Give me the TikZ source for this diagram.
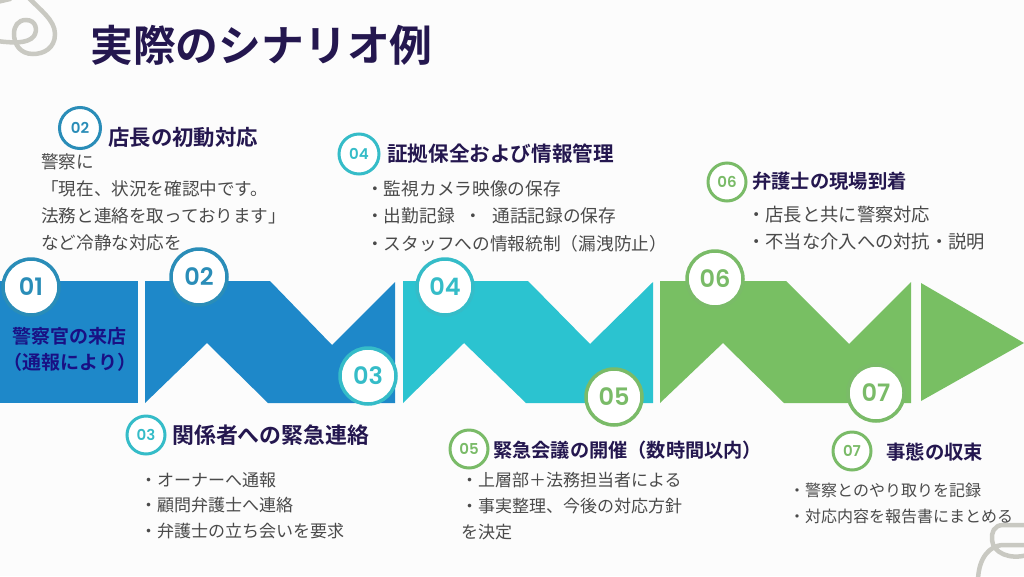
\documentclass[tikz,border=0pt]{standalone}
\usepackage{fontspec}
\setmainfont{Noto Sans CJK JP}[BoldFont={Noto Sans CJK JP Bold}]
\newfontfamily\numfont{Poppins}[BoldFont={Poppins SemiBold}]
\definecolor{bluefill}{HTML}{1E88C9}
\definecolor{bluering}{HTML}{2A8DB8}
\definecolor{tealfill}{HTML}{2BC3D0}
\definecolor{tealring}{HTML}{35BCC8}
\definecolor{greenfill}{HTML}{78BF63}
\definecolor{greenring}{HTML}{7ABB68}
\definecolor{navytext}{HTML}{24174F}
\definecolor{bodytext}{HTML}{4A4A4A}
\definecolor{squiggle}{HTML}{C9C9C2}
\newcommand{\headfont}[1]{\fontsize{#1}{#1}\selectfont\bfseries}
\tikzset{
  x=1pt, y=-1pt,
  bignum/.style={circle, draw=#1, fill=white, line width=3.5pt, minimum size=56pt, inner sep=0pt, text=#1, font=\numfont\bfseries\fontsize{24}{24}\selectfont},
  smallnum/.style={circle, draw=#1, fill=white, line width=3pt, minimum size=38pt, inner sep=0pt, text=#1, font=\numfont\bfseries\fontsize{15}{15}\selectfont},
  heading/.style={anchor=west, inner sep=0pt, text=navytext},
  bodyblock/.style 2 args={anchor=north west, inner sep=0pt, align=left, text=bodytext, font=\fontsize{#1}{#2}\selectfont},
  curl/.style={draw=squiggle, line width=4.5pt, line cap=round},
}
\begin{document}
\begin{tikzpicture}
 \useasboundingbox (0, 0) rectangle (1024, 576);
 \fill[white!99!black] (0, 0) rectangle (1024, 576);

 % corner curls
 \draw[curl] (28, -3) .. controls (40, 10) and (55, 20) .. (55, 34)
    .. controls (55, 48) and (44, 54) .. (33, 54)
    .. controls (20, 54) and (14, 44) .. (14, 34)
    .. controls (14, 26) and (18, 20) .. (26, 20)
    .. controls (36, 20) and (38, 30) .. (34, 36)
    .. controls (28, 44) and (12, 43) .. (-3, 41);
 \draw[curl] (-3, 2) -- (10, -1);
 \draw[curl] (1027, 525) -- (1003, 525) .. controls (994, 525) and (991, 533) .. (992, 540)
    .. controls (993, 553) and (1010, 560) .. (1027, 555);
 \draw[curl] (1027, 545) -- (1002, 545) .. controls (990, 546) and (979, 557) .. (978, 579);

 \node[heading, font=\headfont{42.8}] (title) at (90, 45) {実際のシナリオ例};

 % arrow band
 \fill[bluefill] (0, 281) -- (138, 281) -- (138, 403) -- (0, 403) -- cycle;
 \fill[bluefill] (145, 281) -- (270, 281) -- (332, 345) -- (395, 282) -- (395, 403) -- (268, 403) -- (207, 343) -- (145, 403) -- cycle;
 \fill[tealfill] (403, 281) -- (528, 281) -- (590, 344) -- (653, 282) -- (653, 403) -- (526, 403) -- (464, 343) -- (403, 403) -- cycle;
 \fill[greenfill] (660, 281) -- (786, 281) -- (849, 344) -- (911, 282) -- (911, 403) -- (784, 403) -- (723, 343) -- (660, 403) -- cycle;
 \fill[greenfill] (921, 283) -- (1024, 343) -- (921, 401) -- cycle;

 \node[anchor=center, inner sep=0pt, align=center, text=navytext!70!blue, font=\bfseries\fontsize{19}{26}\selectfont] (police) at (70, 349) {警察官の来店\\（通報により）};

 % big numbers on the band
 \node[bignum=bluering] (big1) at (31, 287) {01};
 \node[bignum=bluering] (big2) at (199, 277) {02};
 \node[bignum=tealring] (big3) at (368, 376) {03};
 \node[bignum=tealring] (big4) at (445, 287) {04};
 \node[bignum=greenring] (big5) at (614, 397) {05};
 \node[bignum=greenring] (big6) at (715, 279) {06};
 \node[bignum=greenring] (big7) at (876, 393) {07};

 % small numbers and headings
 \node[smallnum=bluering, minimum size=41pt] (small2) at (80, 128) {02};
 \node[heading, font=\headfont{21.4}] (head2) at (108, 137) {店長の初動対応};
 \node[smallnum=tealring, minimum size=40pt] (small4) at (359, 154) {04};
 \node[heading, font=\headfont{20.6}] (head4) at (387, 154) {証拠保全および情報管理};
 \node[smallnum=greenring] (small6) at (727, 182) {06};
 \node[heading, font=\headfont{19.3}] (head6) at (752, 181) {弁護士の現場到着};
 \node[smallnum=tealring] (small3) at (146, 435) {03};
 \node[heading, font=\headfont{21.9}] (head3) at (172, 435) {関係者への緊急連絡};
 \node[smallnum=greenring] (small5) at (469, 449) {05};
 \node[heading, font=\headfont{19.2}] (head5) at (493, 450) {緊急会議の開催（数時間以内）};
 \node[smallnum=greenring] (small7) at (852, 451) {07};
 \node[heading, font=\headfont{19.4}] (head7) at (886, 452) {事態の収束};

 % body text
 \node[bodyblock={17.6}{27}] (body2) at (41, 153) {警察に\\「現在、状況を確認中です。\\法務と連絡を取っております」\\など冷静な対応を};
 \node[bodyblock={17.7}{27.5}] (body4) at (366, 180) {・監視カメラ映像の保存\\・出勤記録\hspace{10pt}・\hspace{10pt}通話記録の保存\\・スタッフへの情報統制（漏洩防止）};
 \node[bodyblock={18.3}{27}] (body6) at (747, 206) {・店長と共に警察対応\\・不当な介入への対抗・説明};
 \node[bodyblock={17}{25.5}] (body3) at (140, 472) {・オーナーへ通報\\・顧問弁護士へ連絡\\・弁護士の立ち会いを要求};
 \node[bodyblock={17}{26}] (body5) at (461, 472) {・上層部＋法務担当者による\\・事実整理、今後の対応方針\\を決定};
 \node[bodyblock={16}{26}] (body7) at (789, 483) {・警察とのやり取りを記録\\・対応内容を報告書にまとめる};
\end{tikzpicture}
\end{document}
